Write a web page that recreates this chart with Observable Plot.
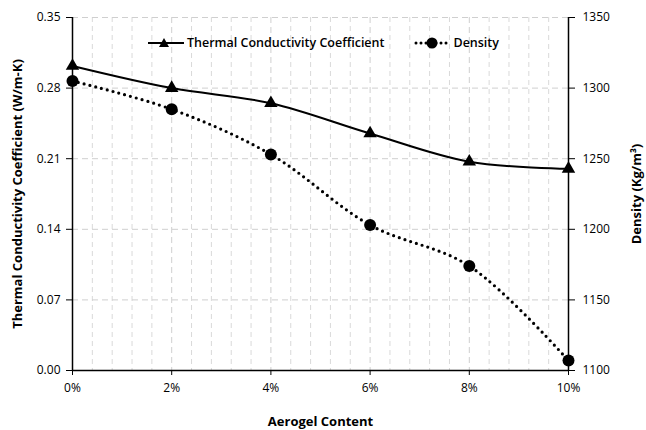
<!DOCTYPE html>
<html>
<head>
<meta charset="utf-8">
<script src="https://cdn.jsdelivr.net/npm/d3@7"></script>
<script src="https://cdn.jsdelivr.net/npm/@observablehq/plot@0.6"></script>
<style>
  body { margin: 0; background: #fff; font-family: "Open Sans", "Liberation Sans", sans-serif; }
  #wrap { position: relative; width: 646px; height: 430px; }
  #legend { position: absolute; left: 148px; top: 34px; font-size: 12.5px; font-weight: 600; color: #000; display: flex; align-items: center; white-space: nowrap; }
  #legend span.item { display: inline-flex; align-items: center; }
  #legend svg { margin-right: 3px; }
</style>
</head>
<body>
<div id="wrap">
  <div id="chart"></div>
  <div id="legend"></div>
</div>
<script>
// Data
const aerogel = [0, 2, 4, 6, 8, 10];               // Aerogel content (%)
const thermal = [0.302, 0.280, 0.265, 0.235, 0.207, 0.200]; // W/m-K
const density = [1305, 1285, 1253, 1203, 1174, 1107];       // Kg/m³
const xTicks = [0, 2, 4, 6, 8, 10];
const xMinorTicks = [0.4, 0.8, 1.2, 1.6, 2.4, 2.8, 3.2, 3.6, 4.4, 4.8, 5.2, 5.6, 6.4, 6.8, 7.2, 7.6, 8.4, 8.8, 9.2, 9.6];
const yTicks = [0, 0.07, 0.14, 0.21, 0.28, 0.35];
const densityTicks = [1100, 1150, 1200, 1250, 1300, 1350];

const yMax = 0.35, dMin = 1100, dMax = 1350;
const toY = d => (d - dMin) / (dMax - dMin) * yMax;
const fromY = v => dMin + v / yMax * (dMax - dMin);

const tcData = aerogel.map((a, i) => ({x: a, y: thermal[i]}));
const dData = aerogel.map((a, i) => ({x: a, y: toY(density[i])}));

const chart = Plot.plot({
  width: 646,
  height: 430,
  marginLeft: 72,
  marginRight: 78,
  marginTop: 17,
  marginBottom: 60,
  style: {fontFamily: "'Open Sans', 'Liberation Sans', sans-serif", fontSize: "12px", color: "#000", background: "#fff"},
  x: {domain: [0, 10]},
  y: {domain: [0, yMax]},
  marks: [
    Plot.gridX({ticks: xMinorTicks, stroke: "#d9d9d9", strokeOpacity: 1, strokeDasharray: "5,4"}),
    Plot.gridX({ticks: xTicks, stroke: "#cfcfcf", strokeOpacity: 1, strokeDasharray: "6,4"}),
    Plot.gridY({ticks: yTicks, stroke: "#cfcfcf", strokeOpacity: 1, strokeDasharray: "6,4"}),
    Plot.axisX({ticks: xTicks, tickFormat: d => d + "%", tickSize: 5, tickPadding: 8, fontSize: 12,
      label: "Aerogel Content", labelAnchor: "center", labelArrow: "none", labelOffset: 55}),
    Plot.axisY({ticks: yTicks, tickFormat: d => d.toFixed(2), tickSize: 6, tickPadding: 6, fontSize: 12,
      label: "Thermal Conductivity Coefficient (W/m-K)", labelAnchor: "center", labelArrow: "none", labelOffset: 60}),
    Plot.axisY({anchor: "right", ticks: densityTicks.map(toY), tickFormat: v => String(Math.round(fromY(v))), tickSize: 6, tickPadding: 8, fontSize: 12,
      label: "Density (Kg/m³)", labelAnchor: "center", labelArrow: "none", labelOffset: 72}),
    Plot.ruleX([0], {stroke: "#000", strokeWidth: 1.5}),
    Plot.ruleX([10], {stroke: "#000", strokeWidth: 1.5}),
    Plot.ruleY([0], {stroke: "#000", strokeWidth: 1.5}),
    Plot.line(dData, {x: "x", y: "y", curve: "catmull-rom", stroke: "#000", strokeWidth: 3.2, strokeDasharray: "0,6", strokeLinecap: "round"}),
    Plot.line(tcData, {x: "x", y: "y", curve: "catmull-rom", stroke: "#000", strokeWidth: 2}),
    Plot.dot(dData, {x: "x", y: "y", r: 6, fill: "#000"}),
    Plot.dot(tcData, {x: "x", y: "y", symbol: "triangle", r: 5, fill: "#000"})
  ]
});

// bold axis titles only
chart.querySelectorAll("g[aria-label='x-axis label'] text, g[aria-label='y-axis label'] text").forEach(t => {
  t.style.fontWeight = "bold";
  t.style.fontSize = "13px";
});
document.getElementById("chart").appendChild(chart);

// legend
const legend = document.getElementById("legend");
legend.innerHTML =
  `<span class="item"><svg width="36" height="12"><line x1="0" y1="6" x2="36" y2="6" stroke="#000" stroke-width="2"/><path d="M16,1 L21,10 L11,10 Z" fill="#000"/></svg>Thermal Conductivity Coefficient</span>` +
  `<span class="item" style="margin-left:30px"><svg width="36" height="14"><line x1="2" y1="7" x2="34" y2="7" stroke="#000" stroke-width="3" stroke-dasharray="0,5" stroke-linecap="round"/><circle cx="18" cy="7" r="5.5" fill="#000"/></svg>Density</span>`;
</script>
</body>
</html>
